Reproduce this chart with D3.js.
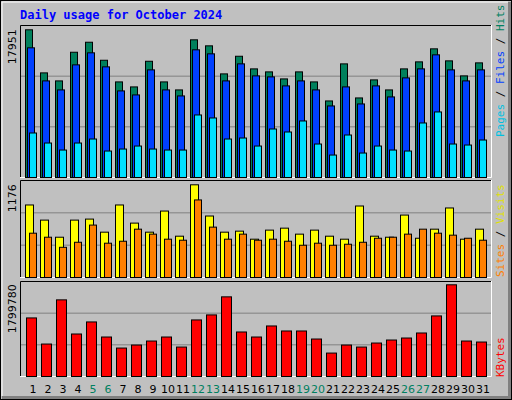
<!DOCTYPE html>
<html><head><meta charset="utf-8">
<script src="https://cdn.jsdelivr.net/npm/d3@7"></script>
<style>body{margin:0;background:#fff}svg{display:block}</style>
</head><body><svg id="c" width="512" height="400"></svg>
<script>
const days = d3.range(1,32);
const weekends = [5,6,12,13,19,20,26,27];
const hits = [17951,12715,11740,15223,16440,14250,11618,11010,14127,11618,10644,16733,16002,12593,14736,13201,12836,11983,12836,11618,9304,13810,9670,11862,10644,13201,14054,15637,14176,12349,13932];
const files = [15761,11741,10645,13690,15152,13447,10524,10036,13081,10645,9914,15517,15030,11741,13812,12350,12229,11133,11741,10645,8697,11011,8940,11133,9793,12107,13203,14908,13081,11741,13081];
const pages = [5408,4190,3337,4190,4677,3216,3459,3825,3459,3337,3337,7600,7235,4677,4799,3825,5895,5530,6870,4068,2728,5164,2972,3825,3337,3216,6626,7966,4068,3946,4555];
const sites = [920,728,511,728,741,575,920,690,575,843,524,1176,780,575,588,486,601,626,550,601,524,486,907,524,511,792,498,613,882,486,613];
const visits = [562,511,383,447,665,435,460,613,550,486,473,984,639,486,550,473,486,460,409,435,409,422,447,498,511,550,613,562,537,498,473];
const kbytes = [1149488,637145,1504187,834200,1070666,775083,558323,617439,696261,775083,578028,1110077,1208604,1563303,873611,775083,991844,893316,893316,735672,459795,617439,578028,656850,715967,755378,853905,1188899,1799780,696261,676556];

const svg = d3.select("#c");
svg.append("rect").attr("x",0).attr("y",0).attr("width",512).attr("height",400).attr("fill","#c0c0c0");
svg.append("rect").attr("x",0.5).attr("y",0.5).attr("width",511).attr("height",399).attr("fill","none").attr("stroke","#000");
svg.append("path").attr("d","M2,397.5H509.5V2").attr("fill","none").attr("stroke","#808080").attr("stroke-width",3);
svg.append("path").attr("d","M2,396V2H508").attr("fill","none").attr("stroke","#fff").attr("stroke-width",1);
svg.append("text").attr("x",20).attr("y",19).text("Daily usage for October 2024")
  .attr("font-family","DejaVu Sans Mono").attr("font-weight","bold").attr("font-size",12).attr("fill","#0000ff");

const x = d3.scaleBand().domain(days).range([21,486]).paddingInner(0).paddingOuter(0);
const L=20,R=491;
function panel(top,bottom,maxBarTop,maxVal,label){
  svg.append("rect").attr("x",L).attr("y",top).attr("width",R-L).attr("height",bottom-top).attr("fill","#c0c0c0");
  const y = d3.scaleLinear().domain([0,maxVal]).range([bottom,maxBarTop]);
  const h=bottom-top;
  [1,2].forEach(k=>svg.append("line").attr("x1",L).attr("x2",R).attr("y1",bottom-h*k/3+0.5).attr("y2",bottom-h*k/3+0.5).attr("stroke","#808080"));
  svg.append("path").attr("d",`M${L+0.5},${bottom}V${top+0.5}H${R}`).attr("fill","none").attr("stroke","#000");
  svg.append("path").attr("d",`M${L},${bottom+0.5}H${R+0.5}V${top}`).attr("fill","none").attr("stroke","#fff");
  svg.append("text").attr("transform",`translate(16,${maxBarTop})rotate(-90)`).attr("text-anchor","end")
    .attr("font-family","DejaVu Sans").attr("font-size",11).attr("fill","#000").text(label);
  return y;
}
function bars(data,y,off,w,color){
  svg.append("g").selectAll("rect").data(data).join("rect")
    .attr("x",(d,i)=>x(days[i])+off+0.5).attr("width",w)
    .attr("y",d=>y(d)+0.5).attr("height",d=>y(0)-y(d))
    .attr("fill",color).attr("stroke","#000").attr("stroke-width",1);
}
const y1 = panel(25,177,29.3,17951,"17951");
bars(hits,y1,4,7,"#00805c");
bars(files,y1,6,7,"#0040ff");
bars(pages,y1,8,7,"#00e0ff");
const y2 = panel(180,277,184.3,1176,"1176");
bars(sites,y2,4,8,"#ffff00");
bars(visits,y2,8,7,"#ff8000");
const y3 = panel(281,376,284.3,1799780,"1799780");
bars(kbytes,y3,5,10,"#ff0000");

svg.append("g").selectAll("text").data(days).join("text")
  .attr("x",d=>x(d)+12).attr("y",393).attr("text-anchor","middle")
  .attr("font-family","DejaVu Sans").attr("font-size",11)
  .attr("fill",d=>weekends.includes(d)?"#008060":"#000").text(d=>d);

function vlabel(yb,parts){
  const t=svg.append("text").attr("transform",`translate(504,${yb})rotate(-90)`)
    .attr("font-family","DejaVu Sans Mono").attr("font-size",11);
  parts.forEach(p=>t.append("tspan").attr("fill",p[1]).text(p[0]));
}
vlabel(137,[["Pages","#00c0e0"],[" / ","#000"],["Files","#0040ff"],[" / ","#000"],["Hits","#008060"]]);
vlabel(277,[["Sites","#ff8000"],[" / ","#000"],["Visits","#e0e000"]]);
vlabel(377,[["KBytes","#ff0000"]]);
</script></body></html>
